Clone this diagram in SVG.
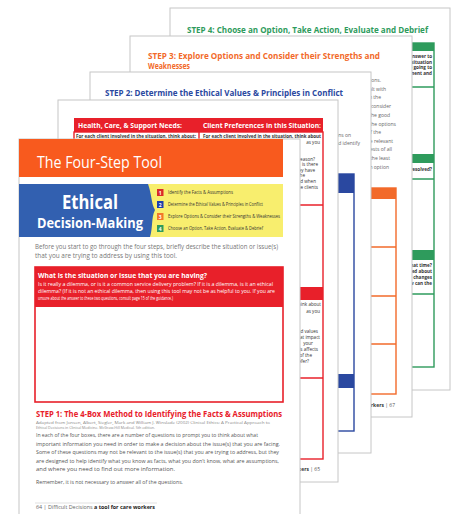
<svg xmlns="http://www.w3.org/2000/svg" width="456" height="514" viewBox="0 0 456 514">
<style>
.page{fill:#fff;stroke:#c6c6c6;stroke-width:1}
text{font-family:'Open Sans','Liberation Sans',sans-serif}
.b{font-weight:bold}
.gr{fill:#2e9b5c}.grs{fill:none;stroke:#2e9b5c;stroke-width:1.4}
.or{fill:#f26a2a}.ors{fill:none;stroke:#f26a2a;stroke-width:1.4}
.bl{fill:#2a48a0}.bls{fill:none;stroke:#2a48a0;stroke-width:1.4}
.rd{fill:#e8202a}.rds{fill:none;stroke:#e8202a;stroke-width:1.4}
.tiny{font-size:4.6px;fill:#333}
.sm{font-size:5px;fill:#666}
</style>
<rect width="456" height="514" fill="#fff"/>

<g id="page-step4">
<rect class="page" x="170" y="8" width="280" height="382"/>
<text class="gr b" x="187" y="33" font-size="8.5" textLength="241" lengthAdjust="spacingAndGlyphs">STEP 4:  Choose an Option, Take Action, Evaluate and Debrief</text>
<rect class="gr" x="300" y="43" width="134" height="8"/>
<rect class="grs" x="300" y="43" width="134" height="324"/>
<line class="grs" x1="300" y1="87" x2="434" y2="87"/>
<rect class="gr" x="300" y="154" width="134" height="9"/>
<line class="grs" x1="300" y1="179" x2="434" y2="179"/>
<rect class="gr" x="300" y="250" width="134" height="10"/>
<line class="grs" x1="300" y1="294" x2="434" y2="294"/>
<g class="tiny b" text-anchor="end">
<text x="432" y="58">the answer to</text>
<text x="432" y="63.5">the situation</text>
<text x="432" y="69">are going to</text>
<text x="432" y="74.5">agreement and</text>
<text x="432" y="171">is it resolved?</text>
<text x="432" y="267">at that time?</text>
<text x="432" y="273">concerned about</text>
<text x="432" y="279">are the changes</text>
<text x="432" y="285">how can the</text>
</g>
</g>

<g id="page-step3">
<rect class="page" x="130" y="36" width="282" height="381"/>
<text class="or b" x="148" y="59" font-size="8.5" textLength="232" lengthAdjust="spacingAndGlyphs">STEP 3:  Explore Options and Consider their Strengths and</text>
<text class="or b" x="148" y="69" font-size="8.5" textLength="42" lengthAdjust="spacingAndGlyphs">Weaknesses</text>
<g class="sm" text-anchor="end">
<text x="381" y="82">situations.</text>
<text x="386" y="90.5">dealt with</text>
<text x="381" y="99">from the</text>
<text x="391" y="108">and consider</text>
<text x="390" y="117">and the good</text>
<text x="396" y="126">compare the options</text>
<text x="381" y="134">of the</text>
<text x="393" y="143">the relevant</text>
<text x="392" y="151">interests of all</text>
<text x="390" y="160">has the least</text>
<text x="389" y="169">each option</text>
</g>
<rect class="or" x="300" y="188" width="96" height="11"/>
<rect class="ors" x="300" y="188" width="96" height="206"/>
<line class="ors" x1="300" y1="247" x2="396" y2="247"/>
<line class="ors" x1="300" y1="296" x2="396" y2="296"/>
<line class="ors" x1="300" y1="344" x2="396" y2="344"/>
<text x="395" y="407" font-size="5" fill="#555" text-anchor="end"><tspan font-weight="bold" fill="#333">care workers</tspan> | 67</text>
</g>

<g id="page-step2">
<rect class="page" x="90" y="72" width="281" height="381"/>
<text class="bl b" x="105" y="96" font-size="8.5" textLength="238" lengthAdjust="spacingAndGlyphs">STEP 2:  Determine the Ethical Values &amp; Principles in Conflict</text>
<g class="sm" text-anchor="end">
<text x="351" y="137">questions on</text>
<text x="360" y="145">and identify</text>
</g>
<rect class="bl" x="250" y="174" width="104" height="19"/>
<rect class="bls" x="250" y="174" width="104" height="257"/>
<rect class="bl" x="250" y="374" width="104" height="14"/>
</g>

<g id="page-step1-table">
<rect class="page" x="58" y="100" width="280" height="382"/>
<rect class="rd" x="74" y="118" width="249" height="14"/>
<text class="b" x="78" y="128" font-size="6.8" fill="#fff" textLength="104" lengthAdjust="spacingAndGlyphs">Health, Care, &amp; Support Needs:</text>
<text class="b" x="203" y="128" font-size="6.8" fill="#fff" textLength="118" lengthAdjust="spacingAndGlyphs">Client Preferences in this Situation:</text>
<rect class="rds" x="74" y="132" width="249" height="327"/>
<line class="rds" x1="199" y1="132" x2="199" y2="459"/>
<line class="rds" x1="74" y1="205" x2="323" y2="205"/>
<rect class="rd" x="74" y="287" width="249" height="13"/>
<line class="rds" x1="74" y1="378" x2="323" y2="378"/>
<g class="tiny b">
<text x="76" y="138" textLength="120" lengthAdjust="spacingAndGlyphs">For each client involved in the situation, think about:</text>
<text x="203" y="138" textLength="118" lengthAdjust="spacingAndGlyphs">For each client involved in the situation, think about</text>
</g>
<g class="tiny" text-anchor="end">
<text x="320" y="144">as you</text>
<text x="315" y="161">reason?</text>
<text x="318" y="166">is there</text>
<text x="315" y="172">do they have</text>
<text x="305" y="177">the</text>
<text x="316" y="183">and when</text>
<text x="318" y="189">the clients</text>
<text x="321" y="306">think about</text>
<text x="320" y="313">as you</text>
<text x="318" y="333">and values</text>
<text x="320" y="339">that impact</text>
<text x="313" y="345">your</text>
<text x="318" y="351">this affects</text>
<text x="312" y="357">of the</text>
<text x="309" y="363">prefer?</text>
</g>
<text x="320" y="471" font-size="5" fill="#555" text-anchor="end"><tspan font-weight="bold" fill="#333">care workers</tspan> | 65</text>
</g>

<g id="page-front">
<rect class="page" x="19" y="139" width="281" height="385"/>
<rect x="19" y="139" width="264" height="38" fill="#f85a1e"/>
<text x="37" y="168" font-size="16" fill="#fff" textLength="125" lengthAdjust="spacingAndGlyphs">The Four-Step Tool</text>
<rect x="145" y="184" width="138" height="53" fill="#f8ee6e"/>
<path d="M19,184 H148 C152,195 151,203 155,210 C151,218 153,228 150,237 H19 Z" fill="#3260b0"/>
<text class="b" x="90" y="209" font-size="19" fill="#fff" text-anchor="middle" textLength="56" lengthAdjust="spacingAndGlyphs">Ethical</text>
<text class="b" x="90" y="228" font-size="13.5" fill="#fff" text-anchor="middle" textLength="106" lengthAdjust="spacingAndGlyphs">Decision-Making</text>
<rect x="157" y="189" width="6.5" height="7" fill="#d92a2a"/>
<rect x="157" y="201" width="6.5" height="7" fill="#1d3fae"/>
<rect x="157" y="213" width="6.5" height="7" fill="#f2762a"/>
<rect x="157" y="225" width="6.5" height="7" fill="#2e9b5c"/>
<g font-size="5" fill="#fff" text-anchor="middle" class="b">
<text x="160.2" y="194.5">1</text><text x="160.2" y="206.5">2</text><text x="160.2" y="218.5">3</text><text x="160.2" y="230.5">4</text>
</g>
<g font-size="4.6" fill="#333">
<text x="168" y="194.3" textLength="65" lengthAdjust="spacingAndGlyphs">Identify the Facts &amp; Assumptions</text>
<text x="168" y="206" textLength="95" lengthAdjust="spacingAndGlyphs">Determine the Ethical Values &amp; Principles in Conflict</text>
<text x="168" y="218.3" textLength="112" lengthAdjust="spacingAndGlyphs">Explore Options &amp; Consider their Strengths &amp; Weaknesses</text>
<text x="168" y="230" textLength="95" lengthAdjust="spacingAndGlyphs">Choose an Option, Take Action, Evaluate &amp; Debrief</text>
</g>
<g font-size="6.3" fill="#777">
<text x="35" y="249" textLength="243" lengthAdjust="spacingAndGlyphs">Before you start to go through the four steps, briefly describe the situation or issue(s)</text>
<text x="35" y="258" textLength="142" lengthAdjust="spacingAndGlyphs">that you are trying to address by using this tool.</text>
</g>
<rect class="rd" x="35" y="267" width="248" height="40"/>
<rect x="35" y="267" width="248" height="135" fill="none" stroke="#e8202a" stroke-width="1.6"/>
<text class="b" x="38" y="277.5" font-size="7.3" fill="#fff" textLength="169" lengthAdjust="spacingAndGlyphs">What is the situation or issue that you are having?</text>
<g font-size="4.8" fill="#fff">
<text x="38" y="286" textLength="235" lengthAdjust="spacingAndGlyphs">Is it really a dilemma, or is it a common service delivery problem? If it is a dilemma, is it an ethical</text>
<text x="38" y="293" textLength="237" lengthAdjust="spacingAndGlyphs">dilemma? (If it is not an ethical dilemma, then using this tool may not be as helpful to you. If you are</text>
<text x="38" y="300" textLength="135" lengthAdjust="spacingAndGlyphs">unsure about the answer to these two questions, consult page 15 of the guidance.)</text>
</g>
<text class="rd b" x="36" y="417" font-size="9.2" textLength="246" lengthAdjust="spacingAndGlyphs">STEP 1:  The 4-Box Method to Identifying the Facts &amp; Assumptions</text>
<g font-size="4.3" fill="#888">
<text x="36" y="423.5" textLength="234" lengthAdjust="spacingAndGlyphs">Adapted from Jonsen, Albert, Siegler, Mark and William J. Winslade (2002) Clinical Ethics: A Practical Approach to</text>
<text x="36" y="429" textLength="119" lengthAdjust="spacingAndGlyphs">Ethical Decisions in Clinical Medicine. McGraw-Hill Medical. 5th edition.</text>
</g>
<g font-size="5.8" fill="#555">
<text x="36" y="437" textLength="222" lengthAdjust="spacingAndGlyphs">In each of the four boxes, there are a number of questions to prompt you to think about what</text>
<text x="36" y="445.5" textLength="244" lengthAdjust="spacingAndGlyphs">important information you need in order to make a decision about the issue(s) that you are facing.</text>
<text x="36" y="454" textLength="243" lengthAdjust="spacingAndGlyphs">Some of these questions may not be relevant to the issue(s) that you are trying to address, but they</text>
<text x="36" y="462.5" textLength="243" lengthAdjust="spacingAndGlyphs">are designed to help identify what you know as facts, what you don't know, what are assumptions,</text>
<text x="36" y="471" textLength="139" lengthAdjust="spacingAndGlyphs">and where you need to find out more information.</text>
<text x="36" y="484" textLength="147" lengthAdjust="spacingAndGlyphs">Remember, it is not necessary to answer all of the questions.</text>
</g>
<line x1="35" y1="503" x2="157" y2="503" stroke="#ccc" stroke-width="0.6"/>
<text x="36" y="509" font-size="4.8" fill="#666" textLength="119" lengthAdjust="spacingAndGlyphs">64 | Difficult Decisions <tspan font-weight="bold" fill="#222">a tool for care workers</tspan></text>
</g>
</svg>
